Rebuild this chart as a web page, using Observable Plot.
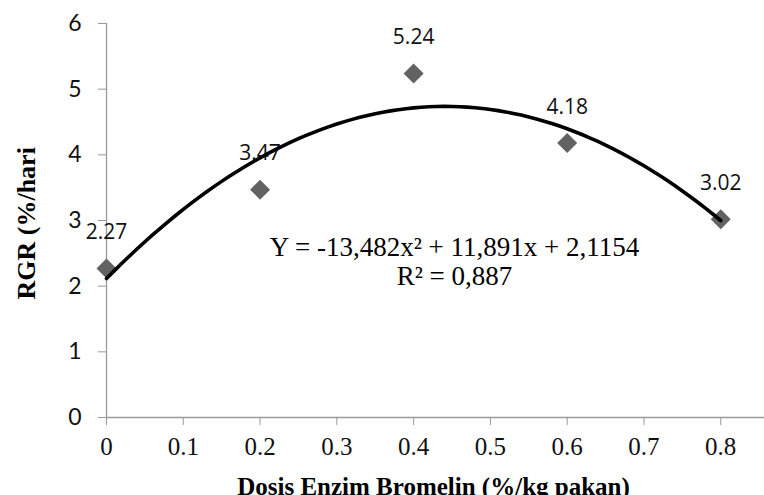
<!DOCTYPE html>
<html>
<head>
<meta charset="utf-8">
<script src="https://cdn.jsdelivr.net/npm/d3@7"></script>
<script src="https://cdn.jsdelivr.net/npm/@observablehq/plot@0.6"></script>
<style>
  html, body { margin: 0; padding: 0; background: #fff; overflow: hidden; }
  #chart svg { display: block; }
</style>
</head>
<body>
<div id="chart"></div>
<script>
// Data
const doses = [0, 0.2, 0.4, 0.6, 0.8];
const rgrValues = [2.27, 3.47, 5.24, 4.18, 3.02];
const pointLabels = ["2.27", "3.47", "5.24", "4.18", "3.02"];
const xTicks = [0, 0.1, 0.2, 0.3, 0.4, 0.5, 0.6, 0.7, 0.8];
const yTicks = [0, 1, 2, 3, 4, 5, 6];
// Polynomial trendline coefficients as printed on the chart (a, b, c)
const trendCoef = [-13.482, 11.891, 2.1154];
const equationLines = ["Y = -13,482x² + 11,891x + 2,1154", "R² = 0,887"];
const xTitle = "Dosis Enzim Bromelin (%/kg pakan)";
const yTitle = "RGR (%/hari";

const points = doses.map((d, i) => ({x: d, y: rgrValues[i], label: pointLabels[i]}));
const [a, b, c] = trendCoef;
const trend = d3.range(0, 80.5, 1).map(k => {
  const x = k / 100;
  return {x, y: a * x * x + b * x + c};
});

const axisColor = "#9a9a9a";

const chart = Plot.plot({
  width: 764,
  height: 495,
  marginLeft: 106,
  marginRight: 0,
  marginTop: 23,
  marginBottom: 78,
  x: {domain: [0, 0.857]},
  y: {domain: [0, 6]},
  marks: [
    Plot.ruleY([0], {stroke: axisColor, strokeWidth: 1.3}),
    Plot.ruleX([0], {stroke: axisColor, strokeWidth: 1.3}),
    Plot.axisY(yTicks, {
      tickSize: 8, tickPadding: 17, stroke: axisColor, fill: "#111",
      fontSize: 23, fontFamily: "Lato", label: null, tickFormat: d => String(d)
    }),
    Plot.axisX(xTicks, {
      tickSize: 8, tickPadding: 12, stroke: axisColor, fill: "#111",
      fontSize: 25, fontFamily: "Liberation Serif", label: null, tickFormat: d => String(d)
    }),
    Plot.dot(points, {x: "x", y: "y", symbol: "diamond2", r: 9, fill: "#626262", stroke: "none"}),
    Plot.text(points, {x: "x", y: "y", text: "label", dy: -36, fontSize: 21, fontFamily: "Open Sans", fill: "#111"}),
    Plot.line(trend, {x: "x", y: "y", stroke: "#000", strokeWidth: 3.6, curve: "linear"}),
    Plot.text([equationLines.join("\n")], {
      frameAnchor: "middle", dx: 19, dy: 41, lineHeight: 1.04,
      fontSize: 27, fontFamily: "Liberation Serif", fill: "#000"
    }),
    Plot.text([yTitle], {
      frameAnchor: "left", rotate: -90, dx: -80, dy: 79, lineAnchor: "middle",
      fontSize: 26, fontWeight: "bold", fontFamily: "Liberation Serif", fill: "#000"
    }),
    Plot.text([xTitle], {
      frameAnchor: "bottom", dx: -2, dy: 69, lineAnchor: "middle",
      fontSize: 25, fontWeight: "bold", fontFamily: "Liberation Serif", fill: "#000"
    })
  ]
});
document.getElementById("chart").appendChild(chart);
</script>
</body>
</html>
